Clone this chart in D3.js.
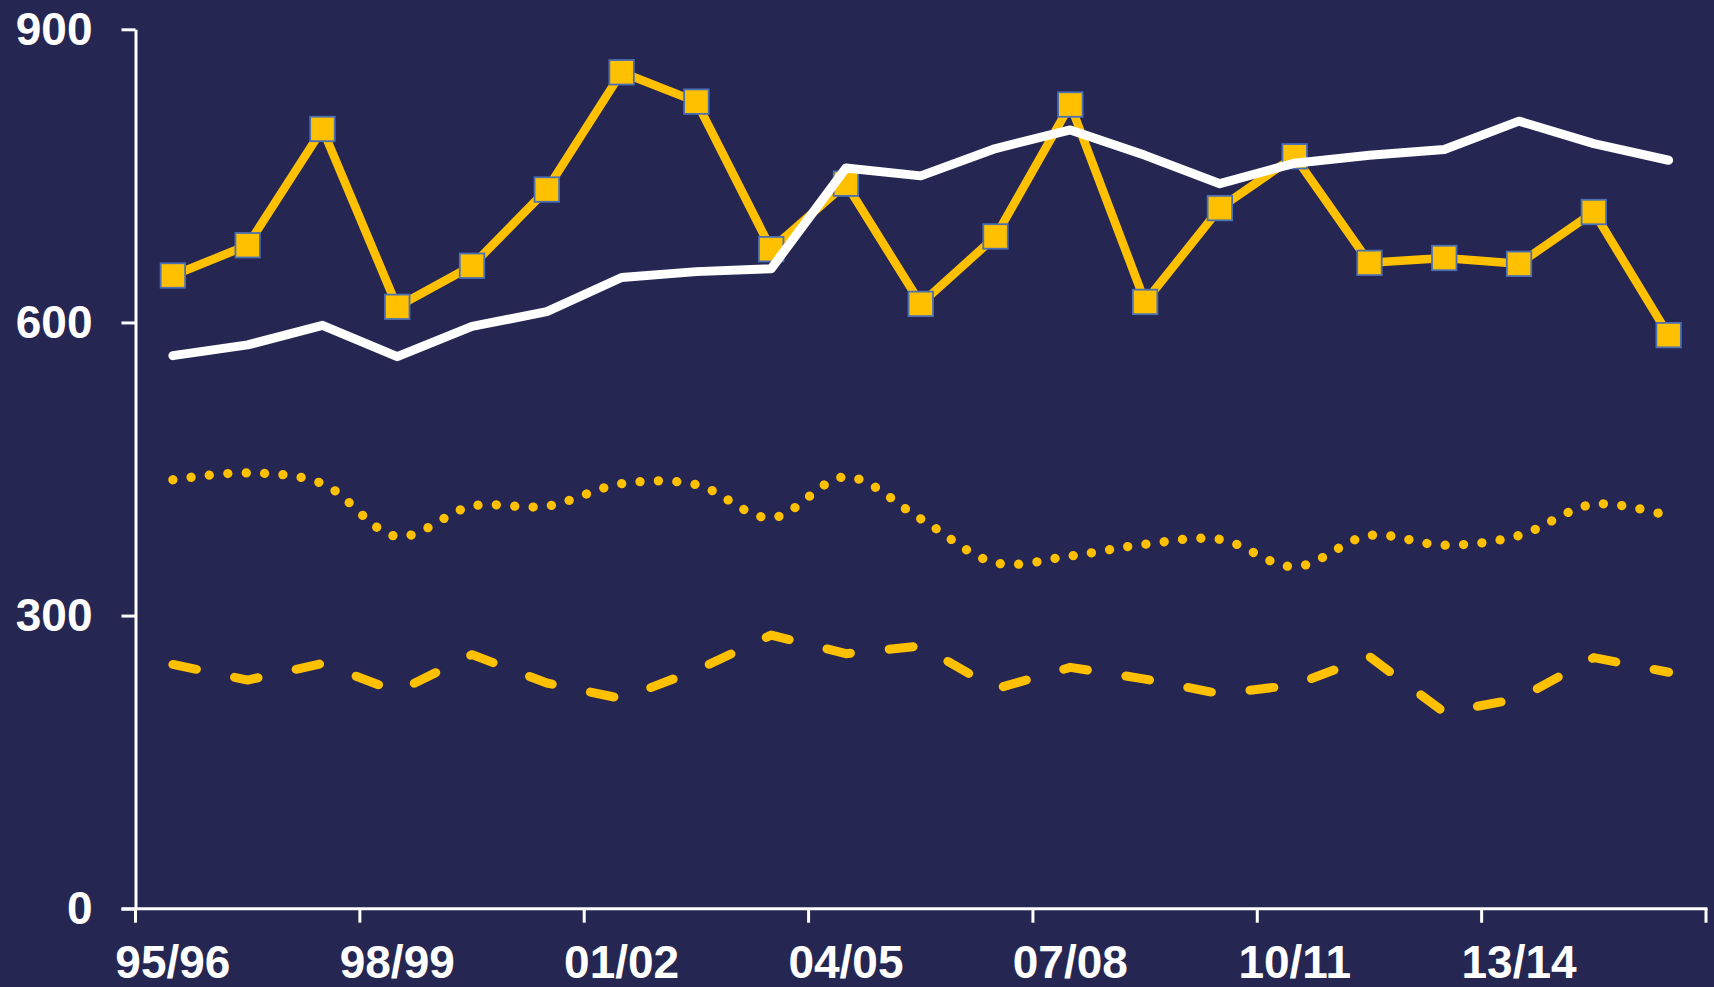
<!DOCTYPE html>
<html>
<head>
<meta charset="utf-8">
<script src="https://cdn.jsdelivr.net/npm/d3@7"></script>
<style>
  html, body { margin: 0; padding: 0; background: #252752; overflow: hidden; }
  svg { display: block; }
  text { font-family: "Liberation Sans", Arial, sans-serif; font-weight: bold; }
</style>
</head>
<body>
<svg id="chart" width="1714" height="987"></svg>
<script>
const categories = ["95/96","96/97","97/98","98/99","99/00","00/01","01/02","02/03","03/04","04/05","05/06","06/07","07/08","08/09","09/10","10/11","11/12","12/13","13/14","14/15","15/16"];
const tickLabels = ["95/96","98/99","01/02","04/05","07/08","10/11","13/14"];
const yTicks = [0, 300, 600, 900];

const squareSeries = [648, 679, 798, 616, 658, 736, 856, 826, 675, 742, 619, 688, 823, 621, 717, 770, 661, 666, 660, 713, 587];
const whiteSeries  = [566, 577, 597, 565, 596, 611, 646, 652, 655, 758, 750, 778, 797, 771, 742, 763, 771, 777, 806, 783, 766];
const dottedSeries = [439, 446, 435, 381, 412, 412, 435, 434, 400, 442, 399, 354, 361, 373, 378, 350, 382, 372, 382, 414, 402];
const dashedSeries = [250, 234, 251, 222, 260, 231, 215, 244, 280, 261, 269, 225, 247, 235, 220, 229, 258, 201, 215, 257, 242];

(function () {
const svg = d3.select("#chart");
const W = 1714, H = 987;
const mLeft = 135.5, mRight = 1706, mTop = 29.3, mBottom = 908.7;
const yellow = "#FFC000";

const x = d3.scaleBand().domain(categories).range([mLeft, mRight]).paddingInner(0).paddingOuter(0);
const y = d3.scaleLinear().domain([0, 900]).range([mBottom, mTop]);
const cx = d => x(d) + x.bandwidth() / 2;

svg.append("rect").attr("width", W).attr("height", H).attr("fill", "#252752");

// Y axis
const yAxis = svg.append("g").attr("transform", `translate(${mLeft},0)`)
  .call(d3.axisLeft(y).tickValues(yTicks).tickSize(14).tickSizeOuter(0).tickPadding(29).tickFormat(d3.format("d")));
yAxis.select(".domain").attr("stroke", "#fff").attr("stroke-width", 3);
yAxis.selectAll(".tick line").attr("stroke", "#fff").attr("stroke-width", 3);
yAxis.selectAll(".tick text").attr("fill", "#fff").attr("font-size", 46)
  .attr("font-family", "'Liberation Sans', Arial, sans-serif").attr("font-weight", "bold");

// X axis: labels at category centres
const xAxis = svg.append("g").attr("transform", `translate(0,${mBottom})`)
  .call(d3.axisBottom(x).tickValues(tickLabels).tickSize(0).tickPadding(37));
xAxis.select(".domain").remove();
xAxis.selectAll(".tick text").attr("fill", "#fff").attr("font-size", 46)
  .attr("font-family", "'Liberation Sans', Arial, sans-serif").attr("font-weight", "bold");

// X axis line and boundary ticks every 3 categories
svg.append("line").attr("x1", mLeft - 14).attr("x2", mRight + 1.5).attr("y1", mBottom).attr("y2", mBottom)
  .attr("stroke", "#fff").attr("stroke-width", 3);
const boundaryCats = categories.filter((c, i) => i % 3 === 0);
const boundaryX = boundaryCats.map(c => x(c)).concat([x(categories[categories.length - 1]) + x.bandwidth()]);
svg.selectAll("line.xtick").data(boundaryX).enter().append("line").attr("class", "xtick")
  .attr("x1", d => d).attr("x2", d => d).attr("y1", mBottom).attr("y2", mBottom + 14)
  .attr("stroke", "#fff").attr("stroke-width", 3);

function series(vals) { return categories.map((c, i) => ({c, v: vals[i]})); }

const smooth = d3.line().x(d => cx(d.c)).y(d => y(d.v)).curve(d3.curveCatmullRom.alpha(0.5));
const straight = d3.line().x(d => cx(d.c)).y(d => y(d.v));

// Dashed
svg.append("path").datum(series(dashedSeries)).attr("d", straight)
  .attr("fill", "none").attr("stroke", yellow).attr("stroke-width", 9)
  .attr("stroke-linecap", "round").attr("stroke-linejoin", "round").attr("stroke-dasharray", "24,39");

// Dotted
svg.append("path").datum(series(dottedSeries)).attr("d", smooth)
  .attr("fill", "none").attr("stroke", yellow).attr("stroke-width", 9.3)
  .attr("stroke-linecap", "round").attr("stroke-linejoin", "round").attr("stroke-dasharray", "0.01,18.4");

// Square-marker series
svg.append("path").datum(series(squareSeries)).attr("d", straight)
  .attr("fill", "none").attr("stroke", yellow).attr("stroke-width", 8.5)
  .attr("stroke-linejoin", "round");
const ms = 24.5;
svg.selectAll("rect.marker").data(series(squareSeries)).enter().append("rect").attr("class", "marker")
  .attr("x", d => cx(d.c) - ms / 2).attr("y", d => y(d.v) - ms / 2)
  .attr("width", ms).attr("height", ms)
  .attr("fill", yellow).attr("stroke", "#4A6FB5").attr("stroke-width", 1.8);

// White series
svg.append("path").datum(series(whiteSeries)).attr("d", straight)
  .attr("fill", "none").attr("stroke", "#fff").attr("stroke-width", 9)
  .attr("stroke-linecap", "round").attr("stroke-linejoin", "round");
})();
</script>
</body>
</html>
